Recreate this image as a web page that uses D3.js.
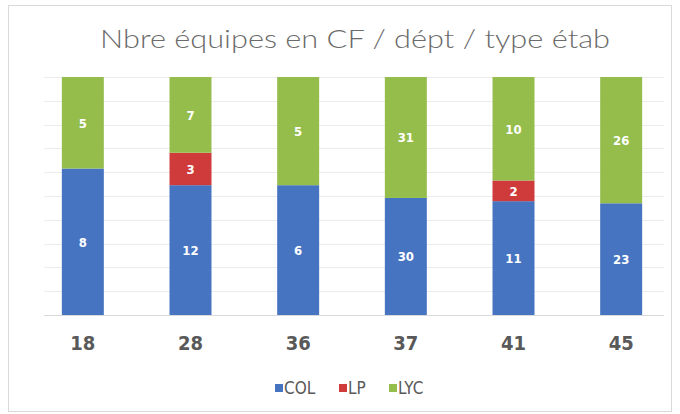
<!DOCTYPE html>
<html>
<head>
<meta charset="utf-8">
<script src="https://cdn.jsdelivr.net/npm/d3@7"></script>
<style>
  body { margin: 0; background: #fff; }
</style>
</head>
<body>
<div id="chart"></div>
<script>
// data
var depts = ["18", "28", "36", "37", "41", "45"];
var col = [8, 12, 6, 30, 11, 23];
var lp = [0, 3, 0, 0, 2, 0];
var lyc = [5, 7, 5, 31, 10, 26];
var seriesNames = ["COL", "LP", "LYC"];
var seriesColors = ["#4674C1", "#CF3B3B", "#94BD4C"];
var gridTicks = [0, 0.1, 0.2, 0.3, 0.4, 0.5, 0.6, 0.7, 0.8, 0.9, 1];

var width = 680, height = 414;
var svg = d3.select("#chart").append("svg")
    .attr("width", width)
    .attr("height", height);

// chart area border
svg.append("rect")
    .attr("x", 8.5).attr("y", 5.5)
    .attr("width", 663).attr("height", 406)
    .attr("fill", "#fff")
    .attr("stroke", "#d9d9d9");

svg.append("text")
    .attr("x", 355).attr("y", 48)
    .attr("text-anchor", "middle")
    .attr("font-family", "Lato, 'Open Sans', sans-serif")
    .attr("font-weight", 300)
    .attr("font-size", 26)
    .attr("fill", "#6b6b6b")
    .attr("textLength", 510)
    .attr("lengthAdjust", "spacingAndGlyphs")
    .text("Nbre équipes en CF / dépt / type étab");

var rows = depts.map(function(d, i) {
    var tot = col[i] + lp[i] + lyc[i];
    return { dept: d, COL: col[i] / tot, LP: lp[i] / tot, LYC: lyc[i] / tot,
             raw: { COL: col[i], LP: lp[i], LYC: lyc[i] } };
});

var x = d3.scaleBand().domain(depts).range([29, 675]).paddingInner(0.61).paddingOuter(0.305);
var y = d3.scaleLinear().domain([0, 1]).range([315, 77]);
var color = d3.scaleOrdinal().domain(seriesNames).range(seriesColors);

// gridlines
svg.append("g").selectAll("line")
    .data(gridTicks)
    .enter().append("line")
    .attr("x1", 44).attr("x2", 664)
    .attr("y1", function(d) { return Math.round(y(d)) + 0.5; })
    .attr("y2", function(d) { return Math.round(y(d)) + 0.5; })
    .attr("stroke", function(d) { return d === 0 ? "#d9d9d9" : "#ececec"; });

var stack = d3.stack().keys(seriesNames)(rows);

var layers = svg.append("g").selectAll("g")
    .data(stack)
    .enter().append("g")
    .attr("fill", function(d) { return color(d.key); });

layers.selectAll("rect")
    .data(function(d) { return d; })
    .enter().append("rect")
    .attr("x", function(d) { return x(d.data.dept); })
    .attr("y", function(d) { return y(d[1]); })
    .attr("width", x.bandwidth())
    .attr("height", function(d) { return y(d[0]) - y(d[1]); });

// data labels
stack.forEach(function(layer) {
    svg.append("g").selectAll("text")
        .data(layer.filter(function(d) { return d.data.raw[layer.key] > 0; }))
        .enter().append("text")
        .attr("x", function(d) { return x(d.data.dept) + x.bandwidth() / 2; })
        .attr("y", function(d) { return (y(d[0]) + y(d[1])) / 2 + 5; })
        .attr("text-anchor", "middle")
        .attr("font-family", "'DejaVu Sans Condensed', sans-serif")
        .attr("font-weight", "bold")
        .attr("font-size", 13)
        .attr("fill", "#fff")
        .text(function(d) { return d.data.raw[layer.key]; });
});

// category axis labels
var xAxis = svg.append("g")
    .attr("transform", "translate(0,315)")
    .call(d3.axisBottom(x).tickSize(0).tickPadding(21));
xAxis.select(".domain").remove();
xAxis.selectAll("text")
    .attr("font-family", "'DejaVu Sans Condensed', sans-serif")
    .attr("font-weight", "bold")
    .attr("font-size", 20)
    .attr("fill", "#595959");

// legend
var legendX = [275, 339, 389];
var legend = svg.append("g").selectAll("g")
    .data(seriesNames)
    .enter().append("g")
    .attr("transform", function(d, i) { return "translate(" + legendX[i] + ",383)"; });
legend.append("rect")
    .attr("width", 8).attr("height", 8)
    .attr("y", 1)
    .attr("fill", function(d) { return color(d); });
legend.append("text")
    .attr("x", 9).attr("y", 11)
    .attr("font-family", "'DejaVu Sans Condensed', sans-serif")
    .attr("font-size", 17)
    .attr("fill", "#595959")
    .text(function(d) { return d; });
</script>
</body>
</html>
